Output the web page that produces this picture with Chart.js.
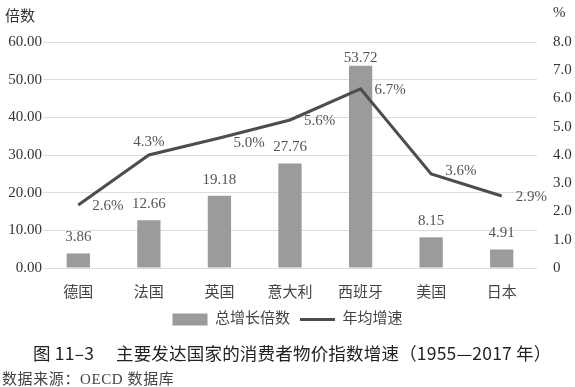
<!DOCTYPE html>
<html>
<head>
<meta charset="utf-8">
<script src="https://cdn.jsdelivr.net/npm/chart.js@4"></script>
<style>
  html, body { margin: 0; padding: 0; background: #fff; }
  #wrap { position: relative; width: 575px; height: 387px; }
  #chart { position: absolute; left: 0; top: 0; }
  .txt { position: absolute; white-space: nowrap; color: #333; }
  #unitLeft { left: 5px; top: 4px; font: 15px "Liberation Serif", "Noto Sans CJK SC", serif; }
  #unitRight { left: 553px; top: 4px; font: 15px "Liberation Serif", serif; }
  #caption { left: 33px; top: 340px; font: 17.5px "Noto Sans CJK SC", sans-serif; letter-spacing: 0.2px; color: #222; }
  #source { left: 2px; top: 367px; font: 15px "Liberation Serif", "Noto Sans CJK SC", serif; letter-spacing: 0.6px; color: #444; }
</style>
</head>
<body>
<div id="wrap">
  <canvas id="chart" width="575" height="387"></canvas>
  <div class="txt" id="unitLeft">倍数</div>
  <div class="txt" id="unitRight">%</div>
  <div class="txt" id="caption">图 11–3　 主要发达国家的消费者物价指数增速（1955—2017 年）</div>
  <div class="txt" id="source">数据来源：OECD 数据库</div>
</div>
<script>
const countries = ['德国', '法国', '英国', '意大利', '西班牙', '美国', '日本']
const totalGrowth = [3.86, 12.66, 19.18, 27.76, 53.72, 8.15, 4.91]
// line as drawn in the picture
const annualRate = [2.23, 4.0, 4.6, 5.24, 6.34, 3.33, 2.55]
// labels printed next to the line
const annualRateLabels = ['2.6%', '4.3%', '5.0%', '5.6%', '6.7%', '3.6%', '2.9%']

const serif = '"Liberation Serif", "Noto Sans CJK SC", serif'

const valueLabels = {
    id: 'valueLabels',
    afterDatasetsDraw(chart) {
        const ctx = chart.ctx
        ctx.save()
        ctx.font = '15px ' + serif
        ctx.fillStyle = '#555'
        ctx.textBaseline = 'middle'

        const bars = chart.getDatasetMeta(0).data
        ctx.textAlign = 'center'
        bars.forEach((bar, i) => {
            const lift = bar.y < 80 ? 8 : 16
            ctx.fillText(totalGrowth[i].toFixed(2), bar.x, bar.y - lift)
        })

        const points = chart.getDatasetMeta(1).data
        points.forEach((pt, i) => {
            if (i === 1) {
                ctx.textAlign = 'center'
                ctx.fillText(annualRateLabels[i], pt.x, pt.y - 13)
            } else {
                ctx.textAlign = 'left'
                const dy = i === 5 ? -3 : (i === 2 ? 5 : 1)
                ctx.fillText(annualRateLabels[i], pt.x + 14, pt.y + dy)
            }
        })
        ctx.restore()
    },
}

new Chart(document.getElementById('chart'), {
    type: 'bar',
    data: {
        labels: countries,
        datasets: [
            {
                label: '总增长倍数',
                data: totalGrowth,
                backgroundColor: '#9b9b9b',
                borderWidth: 0,
                yAxisID: 'y',
                order: 1,
                categoryPercentage: 1,
                barPercentage: 0.33,
                pointStyle: 'rect',
            },
            {
                label: '年均增速',
                type: 'line',
                data: annualRate,
                borderColor: '#4d4d4d',
                backgroundColor: '#4d4d4d',
                borderWidth: 3,
                pointRadius: 0,
                tension: 0,
                yAxisID: 'y1',
                order: 0,
                pointStyle: 'line',
            },
        ],
    },
    options: {
        responsive: false,
        animation: false,
        layout: { padding: { top: 42, left: 0, right: 0, bottom: 50 } },
        plugins: {
            legend: {
                position: 'bottom',
                labels: {
                    usePointStyle: true,
                    pointStyleWidth: 35,
                    boxHeight: 12,
                    padding: 10,
                    color: '#444',
                    font: { size: 15, family: serif },
                    sort: (a, b) => a.datasetIndex - b.datasetIndex,
                },
            },
            tooltip: { enabled: false },
        },
        scales: {
            x: {
                grid: { display: false },
                border: { display: false },
                ticks: { color: '#444', padding: 8, font: { size: 15, family: serif } },
                afterFit: scale => { scale.height = 34 },
            },
            y: {
                position: 'left',
                min: 0,
                max: 60,
                ticks: {
                    stepSize: 10,
                    padding: 1,
                    color: '#333',
                    font: { size: 15, family: serif },
                    callback: v => v.toFixed(2),
                },
                grid: { color: '#dddddd', drawTicks: false },
                border: { display: false },
                afterFit: scale => { scale.width = 43 },
            },
            y1: {
                position: 'right',
                min: 0,
                max: 8,
                ticks: {
                    stepSize: 1,
                    padding: 16,
                    color: '#333',
                    font: { size: 15, family: serif },
                    callback: v => (v === 0 ? '0' : v.toFixed(1)),
                },
                grid: { display: false, drawTicks: false },
                border: { display: false },
                afterFit: scale => { scale.width = 38 },
            },
        },
    },
    plugins: [valueLabels],
})
</script>
</body>
</html>
